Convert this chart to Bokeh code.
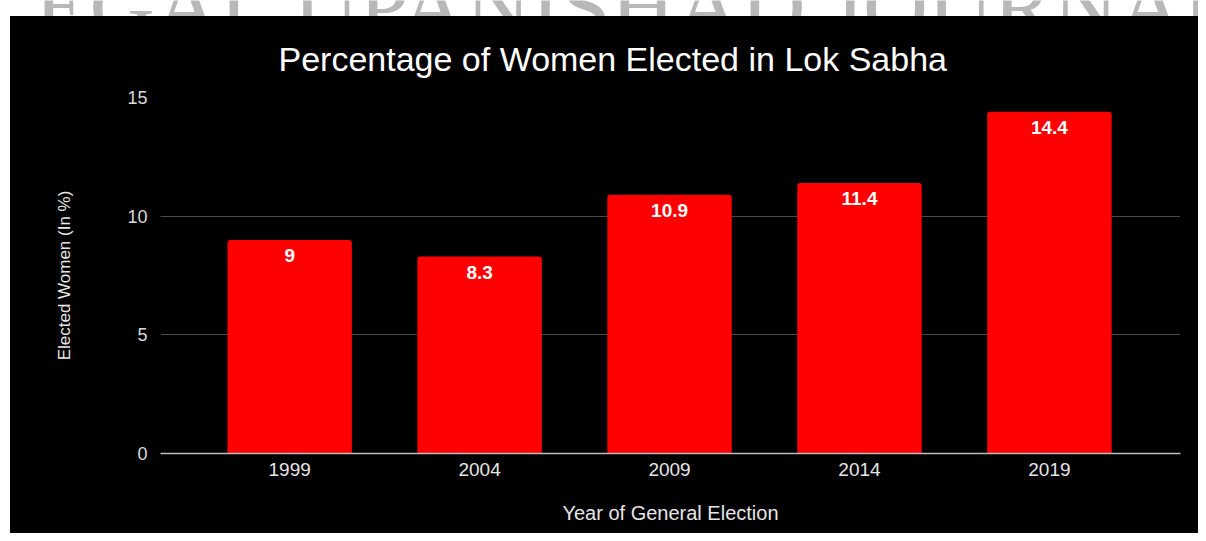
from bokeh.plotting import figure
from bokeh.layouts import column, row
from bokeh.models import ColumnDataSource, Range1d, FixedTicker, Spacer
from bokeh.core.properties import value
from bokeh.embed import file_html
from bokeh.resources import INLINE

years = ["1999", "2004", "2009", "2014", "2019"]
percent = [9, 8.3, 10.9, 11.4, 14.4]
y_ticks = [0, 5, 10, 15]
title_text = "Percentage of Women Elected in Lok Sabha"
x_title = "Year of General Election"
y_title = "Elected Women (In %)"
watermark = "LEGAL UPANISHAD JOURNAL"

FONT = "Liberation Sans"
idx = list(range(len(years)))
src = ColumnDataSource(dict(x=idx, top=percent, label=[f"{v:g}" for v in percent]))

# watermark strip at the very top
wm = figure(width=1198, height=16, output_backend="svg", toolbar_location=None,
            x_range=Range1d(0, 1198), y_range=Range1d(0, 1),
            min_border=0, border_fill_color="white", background_fill_color="white",
            outline_line_color=None)
wm.axis.visible = False
wm.grid.visible = False
wm.text(x=[610], y=[0.6], text=[watermark], text_font=value("Liberation Serif"),
        text_font_size="90px", text_color="#b8b8b8", text_align="center",
        text_baseline="middle")

p = figure(width=1188, height=517, output_backend="svg", toolbar_location=None,
           x_range=Range1d(-0.68, 4.69), y_range=Range1d(0, 15),
           min_border_left=150, min_border_right=18, min_border_top=81,
           min_border_bottom=80,
           background_fill_color="black", border_fill_color="black",
           outline_line_color=None)
p.styles = {"background-color": "black"}

p.vbar(x="x", top="top", width=0.655, source=src, fill_color="#ff0000",
       line_color=None, border_radius=(3, 3, 0, 0))
p.text(x="x", y="top", text="label", source=src, text_color="white",
       text_font=value(FONT), text_font_style="bold", text_font_size="19px",
       text_align="center", text_baseline="top", y_offset=9)

p.xgrid.visible = False
p.ygrid.grid_line_color = "#4a4a4a"
p.ygrid.ticker = FixedTicker(ticks=y_ticks)

p.yaxis.ticker = FixedTicker(ticks=y_ticks)
p.yaxis.axis_line_color = None
p.yaxis.major_tick_line_color = None
p.yaxis.minor_tick_line_color = None
p.yaxis.major_tick_out = 0
p.yaxis.major_label_standoff = 13
p.yaxis.major_label_text_font = FONT
p.yaxis.major_label_text_font_size = "18px"
p.yaxis.major_label_text_color = "#d9d9d9"
p.yaxis.axis_label = y_title
p.yaxis.axis_label_text_font = FONT
p.yaxis.axis_label_text_font_style = "normal"
p.yaxis.axis_label_text_font_size = "17px"
p.yaxis.axis_label_text_color = "#e6e6e6"
p.yaxis.axis_label_standoff = 50

p.xaxis.ticker = FixedTicker(ticks=idx)
p.xaxis.major_label_overrides = {i: y for i, y in zip(idx, years)}
p.xaxis.axis_line_color = "#bdbdbd"
p.xaxis.axis_line_width = 1.5
p.xaxis.major_tick_line_color = None
p.xaxis.minor_tick_line_color = None
p.xaxis.major_tick_out = 0
p.xaxis.major_label_standoff = 9
p.xaxis.major_label_text_font = FONT
p.xaxis.major_label_text_font_size = "19px"
p.xaxis.major_label_text_color = "#e6e6e6"
p.xaxis.axis_label = x_title
p.xaxis.axis_label_text_font = FONT
p.xaxis.axis_label_text_font_style = "normal"
p.xaxis.axis_label_text_font_size = "20px"
p.xaxis.axis_label_text_color = "#e6e6e6"
p.xaxis.axis_label_standoff = 23

p.title.text = title_text
p.title.text_font = FONT
p.title.text_font_style = "normal"
p.title.text_font_size = "34px"
p.title.text_color = "white"
p.title.align = "left"
p.title.offset = 118
p.title.standoff = 40

layout = column(wm, row(Spacer(width=10, height=517), p, spacing=0), spacing=0)
open("out.html", "w").write(file_html(layout, INLINE))
